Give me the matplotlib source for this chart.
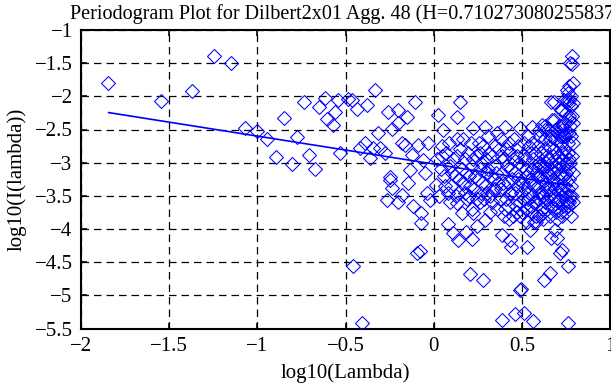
import matplotlib
matplotlib.use("Agg")
import matplotlib.pyplot as plt

# ---- data (log10 frequency, log10 periodogram) ----
sparse_left = [(-1.849, -1.80), (-1.548, -2.07), (-1.372, -1.913), (-1.248, -1.389),
               (-1.151, -1.505), (-1.070, -2.47), (-1.004, -2.53), (-0.947, -2.646),
               (-0.849, -2.32), (-0.895, -2.917), (-0.806, -3.02), (-0.774, -2.606),
               (-0.738, -2.078), (-0.706, -2.887), (-0.675, -3.089), (-0.649, -2.154),
               (-0.617, -2.027), (-0.607, -2.344), (-0.573, -2.43), (-0.560, -2.23),
               (-0.543, -2.05), (-0.532, -2.85)]

middle = [(-0.485, -2.04), (-0.465, -2.05), (-0.437, -2.19), (-0.38, -2.13), (-0.333, -1.91),
          (-0.258, -2.23), (-0.201, -2.2), (-0.15, -2.31), (-0.201, -2.40), (-0.239, -2.495),
          (-0.107, -2.09), (-0.315, -2.555), (-0.39, -2.71), (-0.343, -2.78), (-0.305, -2.78),
          (-0.418, -2.78), (-0.362, -2.93), (-0.277, -2.86), (-0.163, -2.73), (-0.088, -2.73),
          (-0.125, -2.88), (-0.06, -2.96), (-0.031, -2.71), (-0.182, -2.71), (-0.135, -3.11),
          (-0.248, -3.21), (-0.05, -3.16), (-0.267, -3.56), (-0.239, -3.385), (-0.248, -3.26),
          (-0.201, -3.587), (-0.182, -3.486), (-0.144, -3.31), (-0.12, -3.66), (-0.074, -3.76),
          (-0.069, -3.91), (-0.04, -3.46), (-0.022, -3.56), (-0.456, -4.557), (-0.405, -5.41),
          (-0.078, -4.33), (-0.094, -4.365)]

low_freq_dense = [(0.016, -3.33), (0.026, -2.28), (0.054, -2.5), (0.13, -2.31), (0.149, -2.09),
                  (0.082, -3.93), (0.111, -4.06), (0.139, -4.165), (0.215, -4.155), (0.186, -4.04),
                  (0.243, -3.96), (0.13, -3.61), (0.158, -3.76), (0.224, -3.76), (0.29, -3.86),
                  (0.319, -3.74), (0.205, -4.677), (0.281, -4.768), (0.39, -5.37), (0.385, -4.09),
                  (0.432, -4.165), (0.441, -4.265), (0.224, -2.48), (0.29, -2.455), (0.404, -2.455),
                  (0.489, -2.48),
                  (0.02, -2.95), (0.04, -3.1), (0.06, -3.2), (0.07, -2.85), (0.09, -3.05), (0.1, -3.35),
                  (0.11, -2.95), (0.12, -3.2), (0.14, -3.45), (0.15, -2.8), (0.16, -3.1), (0.17, -3.3),
                  (0.18, -2.95), (0.19, -3.55), (0.2, -3.2), (0.21, -2.7), (0.22, -3.05), (0.23, -3.4),
                  (0.24, -2.9), (0.25, -3.25), (0.26, -3.6), (0.27, -3.0), (0.28, -2.75), (0.29, -3.35),
                  (0.3, -3.15), (0.31, -2.6), (0.32, -3.5), (0.33, -2.9), (0.34, -3.25), (0.35, -3.05),
                  (0.36, -3.7), (0.37, -2.8), (0.38, -3.4), (0.39, -3.15), (0.4, -2.95), (0.41, -3.55),
                  (0.42, -3.3), (0.43, -2.7), (0.44, -3.1), (0.45, -3.8), (0.46, -3.45), (0.47, -2.9),
                  (0.48, -3.25), (0.49, -3.6), (0.5, -3.05),
                  (0.05, -2.75), (0.08, -3.45), (0.13, -2.65), (0.2, -3.5), (0.26, -2.85), (0.31, -3.1),
                  (0.35, -3.4), (0.38, -2.65), (0.42, -3.65), (0.46, -3.15), (0.48, -2.75), (0.44, -3.45),
                  (0.33, -3.6), (0.27, -3.45), (0.36, -2.55),
                  (0.03, -3.5), (0.045, -2.9), (0.065, -3.35), (0.085, -2.7), (0.095, -3.6),
                  (0.105, -3.15), (0.125, -3.5), (0.135, -2.9), (0.145, -3.25), (0.165, -2.65),
                  (0.175, -3.45), (0.185, -3.15), (0.195, -2.85), (0.205, -3.35), (0.215, -3.7),
                  (0.225, -2.95), (0.235, -3.2), (0.245, -3.55), (0.255, -2.7), (0.265, -3.1),
                  (0.275, -3.3), (0.285, -3.55), (0.295, -2.95),
                  (0.305, -3.45), (0.315, -2.85), (0.325, -3.2), (0.335, -3.4), (0.345, -2.75),
                  (0.355, -3.15), (0.365, -3.3), (0.375, -3.55), (0.385, -2.9), (0.395, -3.3),
                  (0.405, -3.7), (0.415, -3.05), (0.425, -2.85), (0.435, -3.45), (0.445, -3.25),
                  (0.455, -2.65), (0.465, -3.65), (0.475, -3.35), (0.485, -3.0), (0.495, -3.45),
                  (0.5, -3.75), (0.47, -3.75), (0.43, -3.85), (0.4, -3.8), (0.45, -2.95), (0.41, -2.8)]

high_freq_dense = [(0.489, -4.92), (0.495, -4.9), (0.46, -5.28), (0.511, -5.27), (0.564, -5.38),
                   (0.763, -5.41), (0.659, -4.66), (0.626, -4.77), (0.763, -4.557), (0.729, -4.315),
                   (0.715, -4.365), (0.527, -4.265), (0.668, -4.14), (0.697, -4.14), (0.687, -4.01),
                   (0.489, -3.81), (0.583, -3.89), (0.753, -3.56), (0.545, -4.01), (0.62, -3.76),
                   (0.555, -2.455), (0.612, -2.43),
                   (0.785, -1.39), (0.772, -1.5), (0.79, -1.8), (0.757, -1.9), (0.668, -2.09),
                   (0.68, -2.08), (0.72, -2.2), (0.672, -2.36), (0.634, -2.44), (0.786, -1.52),
                   (0.78, -2.0), (0.77, -2.05), (0.76, -2.12), (0.75, -2.25), (0.785, -2.3),
                   (0.74, -2.4), (0.775, -2.45), (0.765, -2.55), (0.73, -2.6), (0.79, -2.7),
                   (0.7, -2.55), (0.69, -2.65),
                   (0.51, -2.7), (0.52, -2.95), (0.53, -3.2), (0.54, -3.45), (0.55, -2.85), (0.56, -3.1),
                   (0.57, -3.35), (0.58, -3.6), (0.59, -2.75), (0.6, -3.0), (0.61, -3.25), (0.62, -3.5),
                   (0.63, -2.65), (0.64, -2.9), (0.65, -3.15), (0.66, -3.4), (0.67, -3.65), (0.68, -2.8),
                   (0.69, -3.05), (0.7, -3.3), (0.71, -3.55), (0.72, -2.7), (0.73, -2.95), (0.74, -3.2),
                   (0.75, -3.45), (0.76, -2.85), (0.77, -3.1), (0.78, -3.35), (0.79, -3.6),
                   (0.515, -3.55), (0.525, -3.7), (0.535, -2.6), (0.545, -3.3), (0.555, -3.75),
                   (0.565, -2.95), (0.575, -3.05), (0.585, -3.2), (0.595, -3.45), (0.605, -2.6),
                   (0.615, -3.7), (0.625, -3.05), (0.635, -3.3), (0.645, -3.55), (0.655, -2.75),
                   (0.665, -3.0), (0.675, -3.25), (0.685, -3.5), (0.695, -3.75), (0.705, -2.9),
                   (0.715, -3.15), (0.725, -3.4), (0.735, -3.65), (0.745, -2.6), (0.755, -3.0),
                   (0.765, -3.25), (0.775, -3.5), (0.785, -2.9), (0.79, -3.15),
                   (0.7, -3.85), (0.72, -3.75), (0.66, -3.8), (0.6, -3.8), (0.57, -3.9), (0.53, -3.9),
                   (0.75, -3.75), (0.78, -3.8), (0.77, -2.3), (0.76, -2.7), (0.74, -2.8), (0.71, -2.45),
                   (0.68, -2.35), (0.65, -2.5), (0.6, -2.5), (0.73, -2.2), (0.76, -1.95), (0.74, -2.05),
                   (0.505, -3.3), (0.51, -2.9), (0.52, -3.4), (0.525, -3.1), (0.535, -3.55), (0.54, -2.75),
                   (0.55, -3.25), (0.555, -3.5), (0.56, -2.7), (0.57, -3.6), (0.575, -2.85), (0.58, -3.15),
                   (0.59, -3.35), (0.595, -3.05), (0.6, -3.55), (0.605, -3.2), (0.61, -2.85), (0.615, -3.45),
                   (0.62, -3.1), (0.625, -2.8), (0.63, -3.6), (0.635, -3.0), (0.64, -3.4), (0.645, -3.2),
                   (0.65, -2.95), (0.655, -3.5), (0.66, -3.1), (0.665, -2.6), (0.67, -3.3), (0.675, -2.9),
                   (0.68, -3.55), (0.685, -3.15), (0.69, -3.4), (0.695, -2.85), (0.7, -3.1), (0.705, -3.6),
                   (0.71, -3.0), (0.715, -3.4), (0.72, -3.2), (0.725, -2.85), (0.73, -3.5), (0.735, -3.05),
                   (0.74, -3.35), (0.745, -2.9), (0.75, -3.15), (0.755, -3.6), (0.76, -3.4), (0.765, -2.95),
                   (0.77, -3.6), (0.775, -3.0), (0.78, -2.6), (0.785, -3.5), (0.79, -2.4), (0.78, -2.15),
                   (0.765, -2.35), (0.75, -2.55), (0.735, -2.45), (0.725, -2.5), (0.77, -1.85), (0.79, -2.1),
                   (0.755, -2.05), (0.74, -2.6), (0.715, -2.6), (0.69, -2.5), (0.66, -2.65), (0.63, -2.5),
                   (0.62, -3.85), (0.64, -3.7), (0.69, -3.7), (0.73, -3.8), (0.76, -3.65), (0.55, -3.65),
                   (0.58, -3.8)]

# least-squares fit shown in the reference: slope = 1 - 2H
H = 0.710273080255837
fit_slope = 1 - 2 * H
fit_intercept = -3.02
fit_x_range = [-1.843, 0.786]

x_ticks = [-2, -1.5, -1, -0.5, 0, 0.5, 1]
y_ticks = [-5.5, -5, -4.5, -4, -3.5, -3, -2.5, -2, -1.5, -1]

points = sparse_left + middle + low_freq_dense + high_freq_dense
log_lambda = [p[0] for p in points]
log_I = [p[1] for p in points]

plt.rcParams['font.family'] = ['Liberation Serif', 'DejaVu Serif']

fig = plt.figure(figsize=(6.11, 3.85), dpi=100)
ax = fig.add_axes([81 / 611, 56.5 / 385, 529 / 611, 298.5 / 385])

blue = (0, 0, 1)
ax.plot(log_lambda, log_I, linestyle='none', marker='D', markersize=6.7,
        markerfacecolor='none', markeredgecolor=blue, markeredgewidth=0.75, zorder=3)
fx = fit_x_range
fy = [fit_intercept + fit_slope * v for v in fx]
ax.plot(fx, fy, color=blue, linewidth=1.2, zorder=4)

ax.set_xlim(-2, 1)
ax.set_ylim(-5.5, -1)
ax.set_xticks(x_ticks)
ax.set_yticks(y_ticks)
ax.set_xticklabels(['\u22122', '\u22121.5', '\u22121', '\u22120.5', '0', '0.5', '1'])
ax.set_yticklabels(['\u22125.5', '\u22125', '\u22124.5', '\u22124', '\u22123.5', '\u22123',
                    '\u22122.5', '\u22122', '\u22121.5', '\u22121'])
ax.grid(True, color='black', linestyle=(0, (6, 4)), linewidth=0.9)
ax.set_axisbelow(True)
ax.tick_params(direction='in', length=4.5, width=1.2, top=True, right=True,
               labelsize=15, pad=6, colors='black')
for s in ax.spines.values():
    s.set_linewidth(1.5)
    s.set_color('black')

ax.set_xlabel('log10(Lambda)', fontsize=15, labelpad=5)
ax.set_ylabel('log10(I(lambda))', fontsize=15, labelpad=6)
ax.set_title('Periodogram Plot for Dilbert2x01 Agg. 48 (H=0.710273080255837)',
             fontsize=14.5, pad=8)

fig.savefig('out.png', dpi=100)
